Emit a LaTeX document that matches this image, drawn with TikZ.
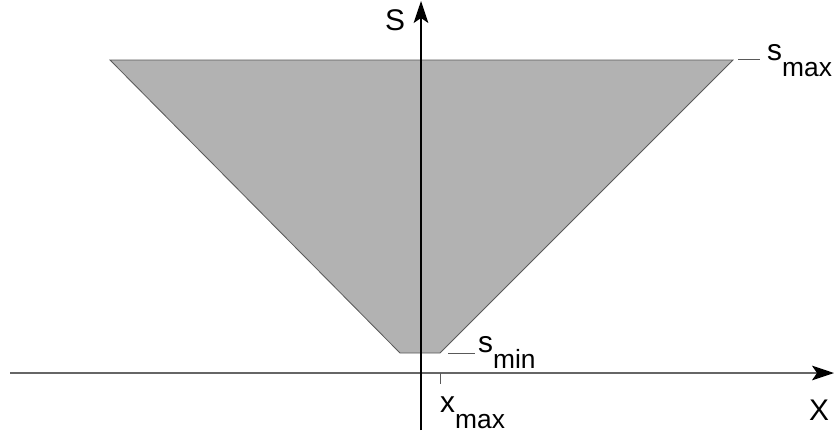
\documentclass[tikz,border=0pt]{standalone}
\usepackage{fontspec}
\setmainfont{Liberation Sans}
\usepackage{xcolor}
\usepackage{tikz}
\usetikzlibrary{positioning,arrows.meta,calc}
\definecolor{regiongray}{RGB}{178,178,178}
\newcommand{\subtxt}[1]{\raisebox{-0.48cm}{\fontsize{22.5}{22.5}\selectfont #1}}

\begin{document}
\begin{tikzpicture}[
    x=0.03cm, y=-0.03cm,
    region/.style={fill=regiongray, draw=black!65, line width=0.7pt},
    axis/.style={-{Stealth[length=6.6mm, width=4.4mm, inset=1.5mm, color=black]}, line width=1.1pt},
    tickline/.style={draw=black!65, line width=0.7pt},
    lbl/.style={inner sep=0pt, anchor=base west, font=\fontsize{25.5}{25.5}\selectfont}
]
\useasboundingbox (0,0) rectangle (837,437);

% Corners of the region
\coordinate (TL) at (110,60);
\coordinate (TR) at (733,60);
\coordinate (BR) at (440,353);
\coordinate (BL) at (400,353);

\draw[region] (TL) -- (TR) -- (BR) -- (BL) -- cycle;

% Axes
\coordinate (Xstart) at (10,373);
\coordinate (Xend) at (834,373);
\coordinate (Ystart) at (421,430);
\coordinate (Yend) at (421,1);
\draw[axis, draw=black!60] (Xstart) -- (Xend);
\draw[axis] (Ystart) -- (Yend);

% Axis labels
\node[lbl] (S) at (385,30) {S};
\node[lbl] (X) at (809,420) {X};

% Marked values
\node[lbl] (smax) at (767,60) {s\subtxt{max}};
\node[lbl] (smin) at (478,352) {s\subtxt{min}};
\node[lbl] (xmax) at (440,412) {x\subtxt{max}};

% Tick lines
\coordinate (smaxA) at ($(TR)+(5,-1)$);
\coordinate (smaxB) at ($(smax.base west)+(-7,-1)$);
\coordinate (sminA) at ($(BR)+(8,0)$);
\coordinate (sminB) at ($(smin.base west)+(-3,1)$);
\coordinate (xmaxA) at (440,373);
\coordinate (xmaxB) at (440,384);
\draw[tickline] (smaxA) -- (smaxB);
\draw[tickline] (sminA) -- (sminB);
\draw[tickline] (xmaxA) -- (xmaxB);

\end{tikzpicture}
\end{document}
